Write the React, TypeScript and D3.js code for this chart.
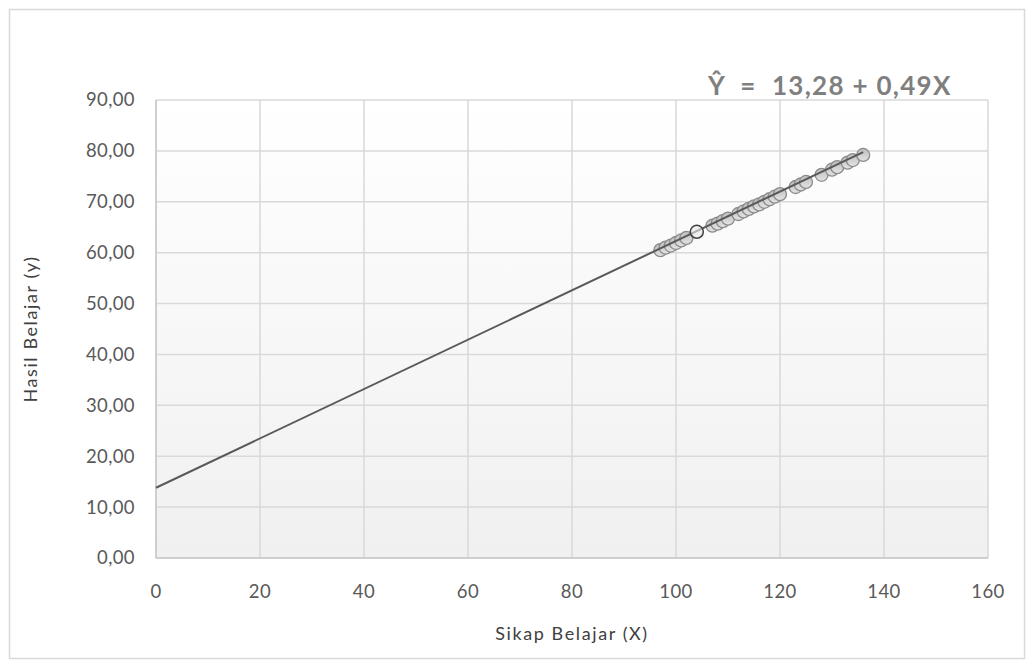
import { useEffect, useRef } from 'react';
import * as d3 from 'd3';

// Sikap Belajar (X) vs Hasil Belajar (y)
const sikapBelajar = [97, 98, 99, 100, 101, 102, 107, 108, 109, 110, 112, 113, 114, 115, 116, 117, 118, 119, 120, 123, 124, 125, 128, 130, 131, 133, 134, 136];
const hasilBelajar = [60.5, 61.0, 61.4, 61.9, 62.4, 62.9, 65.3, 65.7, 66.2, 66.7, 67.6, 68.1, 68.6, 69.1, 69.5, 70.0, 70.5, 71.0, 71.5, 72.9, 73.4, 73.9, 75.3, 76.3, 76.8, 77.7, 78.2, 79.2];
// highlighted point (hollow circle)
const highlightX = [104];
const highlightY = [64.1];

// trend line as drawn
const trendIntercept = 13.8;
const trendSlope = 0.485;
const trendRange = [0, 136];

const xTicks = [0, 20, 40, 60, 80, 100, 120, 140, 160];
const yTicks = [0, 10, 20, 30, 40, 50, 60, 70, 80, 90];
const equationText = 'Ŷ  =  13,28 + 0,49X';

export default function App() {
    const svgRef = useRef<SVGSVGElement | null>(null);

    useEffect(() => {
        if (!svgRef.current) return;
        const svg = d3.select(svgRef.current);
        svg.selectAll('*').remove();

        const width = 1034;
        const height = 668;
        const margin = { left: 156, right: 46, top: 100, bottom: 110 };
        const font = 'Lato, "Open Sans", sans-serif';

        const x = d3.scaleLinear().domain([0, 160]).range([margin.left, width - margin.right]);
        const y = d3.scaleLinear().domain([0, 90]).range([height - margin.bottom, margin.top]);
        const idLocale = d3.formatLocale({ decimal: ',', thousands: '.', grouping: [3], currency: ['Rp', ''] });
        const fmtY = idLocale.format('.2f');

        const defs = svg.append('defs');
        const bg = defs.append('linearGradient').attr('id', 'plotBg')
            .attr('x1', 0).attr('y1', 0).attr('x2', 0).attr('y2', 1);
        bg.append('stop').attr('offset', '0%').attr('stop-color', '#ffffff');
        bg.append('stop').attr('offset', '100%').attr('stop-color', '#f0f0f0');

        const mk = defs.append('linearGradient').attr('id', 'marker')
            .attr('x1', 0).attr('y1', 0).attr('x2', 0).attr('y2', 1);
        mk.append('stop').attr('offset', '0%').attr('stop-color', '#bdbdbd');
        mk.append('stop').attr('offset', '100%').attr('stop-color', '#e4e4e4');

        // chart frame
        svg.append('rect')
            .attr('x', 9.5).attr('y', 9.5)
            .attr('width', width - 19).attr('height', height - 19)
            .attr('fill', '#ffffff')
            .attr('stroke', '#d9d9d9')
            .attr('stroke-width', 1.5);

        // plot background
        svg.append('rect')
            .attr('x', x(0)).attr('y', y(90))
            .attr('width', x(160) - x(0)).attr('height', y(0) - y(90))
            .attr('fill', 'url(#plotBg)');

        // grid
        svg.append('g').selectAll('line').data(xTicks).join('line')
            .attr('x1', (d) => x(d)).attr('x2', (d) => x(d))
            .attr('y1', y(0)).attr('y2', y(90))
            .attr('stroke', '#d9d9d9').attr('stroke-width', 1.5);
        svg.append('g').selectAll('line').data(yTicks).join('line')
            .attr('x1', x(0)).attr('x2', x(160))
            .attr('y1', (d) => y(d)).attr('y2', (d) => y(d))
            .attr('stroke', '#d9d9d9').attr('stroke-width', 1.5);

        // axes lines
        svg.append('line')
            .attr('x1', x(0)).attr('x2', x(160)).attr('y1', y(0)).attr('y2', y(0))
            .attr('stroke', '#c8c8c8').attr('stroke-width', 1.5);
        svg.append('line')
            .attr('x1', x(0)).attr('x2', x(0)).attr('y1', y(0)).attr('y2', y(90))
            .attr('stroke', '#c8c8c8').attr('stroke-width', 1.5);

        // tick labels
        svg.append('g').selectAll('text').data(yTicks).join('text')
            .attr('x', x(0) - 21).attr('y', (d) => y(d))
            .attr('dy', '0.35em')
            .attr('text-anchor', 'end')
            .attr('font-family', font).attr('font-size', 18.5)
            .attr('letter-spacing', 0.4)
            .attr('fill', '#595959')
            .text((d) => fmtY(d));
        svg.append('g').selectAll('text').data(xTicks).join('text')
            .attr('x', (d) => x(d)).attr('y', y(0) + 34)
            .attr('dy', '0.35em')
            .attr('text-anchor', 'middle')
            .attr('font-family', font).attr('font-size', 18.5)
            .attr('letter-spacing', 0.4)
            .attr('fill', '#595959')
            .text((d) => d);

        // axis titles
        svg.append('text')
            .attr('x', (x(0) + x(160)) / 2).attr('y', 634)
            .attr('dy', '0.35em')
            .attr('text-anchor', 'middle')
            .attr('font-family', font).attr('font-size', 18)
            .attr('fill', '#404040')
            .attr('letter-spacing', 1.6)
            .text('Sikap Belajar (X)');
        svg.append('text')
            .attr('transform', `translate(31, ${(y(0) + y(90)) / 2}) rotate(-90)`)
            .attr('dy', '0.35em')
            .attr('text-anchor', 'middle')
            .attr('font-family', font).attr('font-size', 18)
            .attr('fill', '#404040')
            .attr('letter-spacing', 1.6)
            .text('Hasil Belajar (y)');

        // data markers
        const points = sikapBelajar.map((v, i) => ({ x: v, y: hasilBelajar[i] }));
        svg.append('g').selectAll('circle').data(points).join('circle')
            .attr('cx', (d) => x(d.x)).attr('cy', (d) => y(d.y))
            .attr('r', 6.5)
            .attr('fill', 'url(#marker)')
            .attr('stroke', '#8c8c8c')
            .attr('stroke-width', 1.3);

        // trend line
        const trend = trendRange.map((v) => ({ x: v, y: trendIntercept + trendSlope * v }));
        svg.append('path')
            .datum(trend)
            .attr('d', d3.line<{ x: number; y: number }>().x((d) => x(d.x)).y((d) => y(d.y)))
            .attr('fill', 'none')
            .attr('stroke', '#595959')
            .attr('stroke-width', 2);

        // highlighted point
        const hl = highlightX.map((v, i) => ({ x: v, y: highlightY[i] }));
        svg.append('g').selectAll('circle').data(hl).join('circle')
            .attr('cx', (d) => x(d.x)).attr('cy', (d) => y(d.y))
            .attr('r', 6.5)
            .attr('fill', 'rgba(230,230,230,0.6)')
            .attr('stroke', '#404040')
            .attr('stroke-width', 1.5);

        // regression equation
        svg.append('text')
            .attr('x', 708).attr('y', 86)
            .attr('dy', '0.35em')
            .attr('font-family', font).attr('font-size', 26)
            .attr('font-weight', 'bold')
            .attr('letter-spacing', 1.3)
            .attr('fill', '#7f7f7f')
            .attr('xml:space', 'preserve')
            .style('white-space', 'pre')
            .text(equationText);
    }, []);

    return (
        <svg
            ref={svgRef}
            width={1034}
            height={668}
            style={{ position: 'absolute', left: 0, top: 0 }}
        />
    );
}
